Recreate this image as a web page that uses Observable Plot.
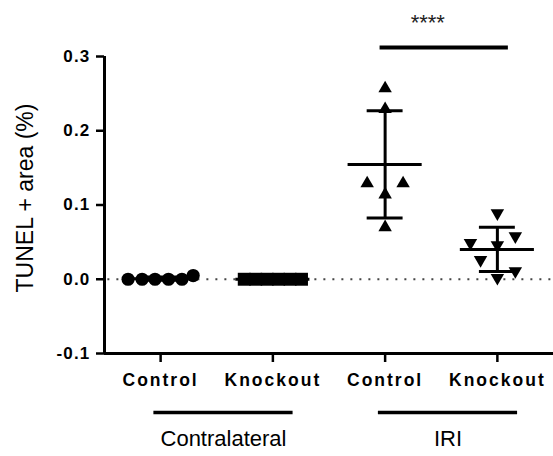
<!DOCTYPE html>
<html>
<head>
<meta charset="utf-8">
<script src="https://cdn.jsdelivr.net/npm/d3@7"></script>
<script src="https://cdn.jsdelivr.net/npm/@observablehq/plot@0.6"></script>
<style>
  html, body { margin: 0; padding: 0; background: #fff; }
  #chart svg { font-family: "Liberation Sans", Arial, Helvetica, sans-serif; }
  g[aria-label="y-axis tick label"] { letter-spacing: 1.2px; }
  g[aria-label="x-axis tick label"] { letter-spacing: 2px; }
  [aria-label="group-label"], [aria-label="group-label"] text { letter-spacing: 2.4px; }
  [aria-label="stars"], [aria-label="stars"] text { letter-spacing: 1.5px; }
</style>
</head>
<body>
<div id="chart"></div>
<script>
// ---- data ----
const categoryLabels = ["Control", "Knockout", "Control", "Knockout"];
const groupLabels = ["Contralateral", "IRI"];
const groupSpans = [[1, 2], [3, 4]];
const yTicks = [-0.1, 0.0, 0.1, 0.2, 0.3];
const yTitle = "TUNEL + area (%)";
const significance = "****";

const contraControl = [0, 0, 0, 0, 0, 0.005];
const contraControlJitter = [-0.29, -0.165, -0.05, 0.07, 0.19, 0.29];
const contraKnockout = [0, 0, 0, 0, 0, 0];
const contraKnockoutJitter = [-0.255, -0.153, -0.051, 0.051, 0.153, 0.255];
const iriControl = [0.257, 0.229, 0.129, 0.129, 0.114, 0.070];
const iriControlJitter = [0, 0, -0.16, 0.16, 0, 0];
const iriKnockout = [0.089, 0.058, 0.049, 0.046, 0.026, 0.011, 0.002];
const iriKnockoutJitter = [0, 0.16, -0.24, 0, -0.15, 0.16, 0];

// ---- build tables ----
const series = [
  {pos: 1, values: contraControl, jitter: contraControlJitter, symbol: "circle", rotate: 0, r: 6.6},
  {pos: 2, values: contraKnockout, jitter: contraKnockoutJitter, symbol: "square", rotate: 0, r: 7.3},
  {pos: 3, values: iriControl, jitter: iriControlJitter, symbol: "triangle", rotate: 0, r: 5},
  {pos: 4, values: iriKnockout, jitter: iriKnockoutJitter, symbol: "triangle", rotate: 180, r: 5}
];
const stats = series.map(s => {
  const m = d3.mean(s.values), sd = d3.deviation(s.values) || 0;
  return {pos: s.pos, mean: m, lo: m - sd, hi: m + sd};
});
const groups = groupLabels.map((g, i) => ({label: g, start: groupSpans[i][0], end: groupSpans[i][1]}));

const meanHalf = 0.33, capHalf = 0.16;
const font = '"Liberation Sans", Arial, Helvetica, sans-serif';

const dotMarks = series.map(s => Plot.dot(
  s.values.map((v, i) => ({x: s.pos + s.jitter[i], y: v})),
  {x: "x", y: "y", symbol: s.symbol, r: s.r, rotate: s.rotate, fill: "black", stroke: "none"}
));

const chart = Plot.plot({
  width: 553,
  height: 456,
  marginLeft: 104,
  marginRight: 0,
  marginTop: 56,
  marginBottom: 103,
  style: {background: "#fff", color: "black", fontFamily: font, overflow: "visible"},
  x: {type: "linear", domain: [0.5, 4.5]},
  y: {domain: [-0.1, 0.3]},
  marks: [
    // dotted zero line
    Plot.ruleY([0], {x1: 0.53, x2: 4.5, stroke: "#444", strokeWidth: 2, strokeDasharray: "2,7"}),
    ...dotMarks,
    // error bars: mean and SD
    Plot.ruleX(stats, {x: "pos", y1: "lo", y2: "hi", strokeWidth: 3, stroke: "black"}),
    Plot.ruleY(stats, {y: "hi", x1: d => d.pos - capHalf, x2: d => d.pos + capHalf, strokeWidth: 3, stroke: "black"}),
    Plot.ruleY(stats, {y: "lo", x1: d => d.pos - capHalf, x2: d => d.pos + capHalf, strokeWidth: 3, stroke: "black"}),
    Plot.ruleY(stats, {y: "mean", x1: d => d.pos - meanHalf, x2: d => d.pos + meanHalf, strokeWidth: 3, stroke: "black"}),
    // axis lines
    Plot.ruleX([0.5], {y1: -0.1, y2: 0.3, strokeWidth: 3, stroke: "black"}),
    Plot.ruleY([-0.1], {x1: 0.5, x2: 4.5, strokeWidth: 3, stroke: "black"}),
    Plot.axisY({ticks: yTicks, tickFormat: d => d.toFixed(1), tickSize: 8, tickPadding: 6,
      strokeWidth: 2.5, fontSize: 17, fontWeight: "bold", label: null}),
    Plot.axisX({ticks: [1, 2, 3, 4], tickFormat: d => categoryLabels[d - 1], tickSize: 9, tickPadding: 11,
      strokeWidth: 2.5, fontSize: 17.5, fontWeight: "bold", label: null}),
    // y title
    Plot.text([yTitle], {frameAnchor: "left", textAnchor: "middle", dx: -79, dy: -7, rotate: -90, fontSize: 23,
      fill: "black"}),
    // group bars and labels
    Plot.ruleY(groups, {y: -0.1, x1: d => d.start - 0.06, x2: d => d.end + 0.18, dy: 59, strokeWidth: 3.5, stroke: "black"}),
    Plot.text(groups, {x: d => (d.start - 0.06 + d.end + 0.18) / 2, y: -0.1, dy: 85, text: "label", fontSize: 22, ariaLabel: "group-label", fill: "black"}),
    // significance bar
    Plot.ruleY([0.3], {x1: 2.955, x2: 4.098, dy: -9, strokeWidth: 4, stroke: "black"}),
    Plot.text([significance], {x: 3.38, y: 0.3, dy: -34, fontSize: 22, ariaLabel: "stars", fill: "#222"})
  ]
});
document.getElementById("chart").append(chart);
</script>
</body>
</html>
